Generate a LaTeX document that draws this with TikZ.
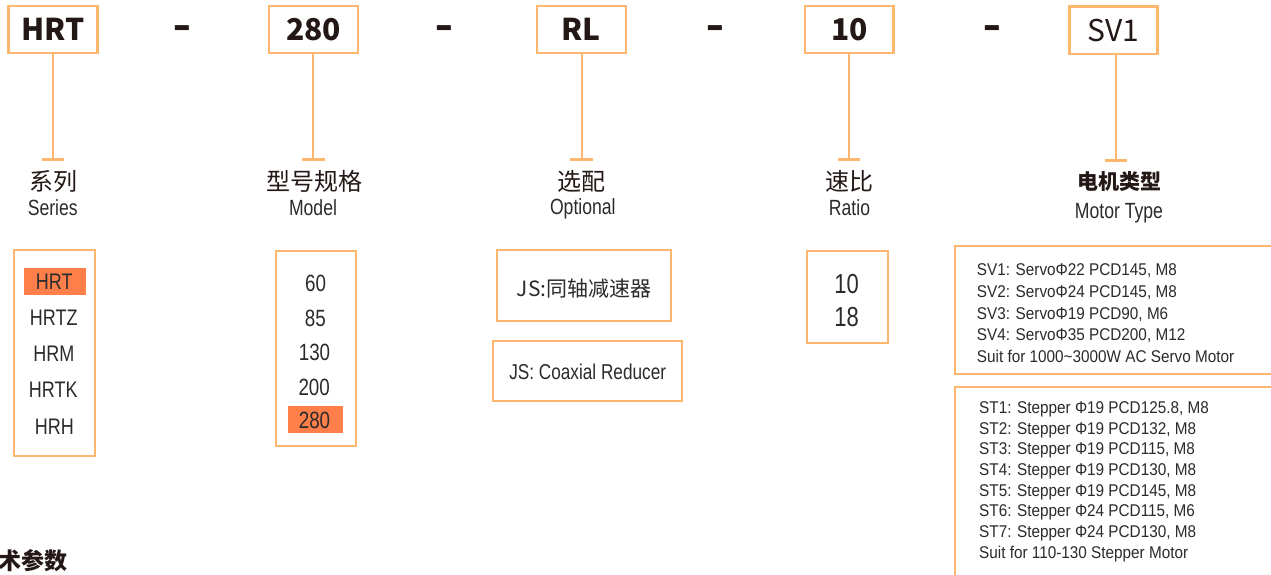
\documentclass[tikz,border=0pt]{standalone}
\usepackage{fontspec}
\setmainfont{Liberation Sans}
\newfontfamily\cjk{Noto Sans CJK SC}
\newfontfamily\na{Liberation Sans}[FakeStretch=0.8]
\newfontfamily\nb{Liberation Sans}[FakeStretch=0.9]
\usetikzlibrary{arrows.meta}
\definecolor{boxline}{HTML}{FFB66E}
\definecolor{hilite}{HTML}{FF7F4A}
\definecolor{ink}{HTML}{231815}
\definecolor{ink2}{HTML}{2B2B2B}
\tikzset{
  codebox/.style={draw=boxline, line width=2.5pt, minimum width=89pt, minimum height=47pt, inner sep=0pt, text=ink},
  codefont/.style={font=\cjk\bfseries\fontsize{30}{30}\selectfont},
  dashtxt/.style={font=\bfseries\fontsize{50}{50}\selectfont, text=ink, inner sep=0pt, anchor=base},
  listbox/.style={draw=boxline, line width=2pt, inner sep=0pt},
  hl/.style={fill=hilite, draw=none, inner sep=0pt},
  conn/.style={draw=boxline, line width=2pt},
  tbar/.style={draw=boxline, line width=3pt},
  cnlab/.style={font=\cjk\fontsize{24}{24}\selectfont, text=ink, anchor=base, inner sep=0pt},
  enlab/.style={font=\na\fontsize{22}{22}\selectfont, text=ink2, anchor=base, inner sep=0pt},
  item/.style={font=\na\fontsize{22.5}{22.5}\selectfont, text=ink2, anchor=base, inner sep=0pt},
  numitem/.style={font=\na\fontsize{23.5}{23.5}\selectfont, text=ink2, anchor=base, inner sep=0pt},
  motline/.style={font=\nb\fontsize{17}{17}\selectfont, text=ink2, anchor=base west, inner sep=0pt},
}
\newcommand{\heavydash}{\scalebox{0.565}[1]{–}}
\begin{document}
\begin{tikzpicture}[x=1pt, y=-1pt]
\useasboundingbox (0,0) rectangle (1271,574);
\clip (0,0) rectangle (1271,574);
\fill[white] (0,0) rectangle (1271,574);

% ---- top code boxes ----
\node[codebox, codefont] (hrt) at (52.8,29.3) {HRT};
\node[codebox, codefont] (m280) at (313.6,29.3) {280};
\node[codebox, codefont] (rl) at (581.3,29.6) {RL};
\node[codebox, codefont, minimum width=88.5pt] (r10) at (849.4,29.4) {10};
\node[codebox, font=\cjk\fontsize{30}{30}\selectfont, minimum width=88.4pt, minimum height=47.3pt] (sv1) at (1113.5,30.3) {SV1};

% dashes
\node[dashtxt] (d1) at (182.8,41.75) {\heavydash};
\node[dashtxt] (d2) at (444.8,41.75) {\heavydash};
\node[dashtxt] (d3) at (715.8,41.75) {\heavydash};
\node[dashtxt] (d4) at (992.8,41.75) {\heavydash};

% ---- connectors with T bars ----
\coordinate (t1) at (52.7,159);
\coordinate (t2) at (313.4,159);
\coordinate (t3) at (581.6,159.3);
\coordinate (t4) at (849.2,159);
\coordinate (t5) at (1116,160.3);
\foreach \b/\t in {hrt/t1, m280/t2, rl/t3, r10/t4, sv1/t5}{
  \draw[conn] (\b.south -| \t) -- (\t);
  \draw[tbar] ([xshift=-11.2pt]\t) -- ([xshift=11.2pt]\t);
}

% ---- labels ----
\node[cnlab] (l1c) at (53.5,190) {系列};
\node[enlab] (l1e) at (52.8,215) {Series};
\node[cnlab] (l2c) at (314.2,190) {型号规格};
\node[enlab] (l2e) at (313,215) {Model};
\node[cnlab] (l3c) at (581.7,190.5) {选配};
\node[enlab] (l3e) at (582.8,214.5) {Optional};
\node[cnlab] (l4c) at (849,190) {速比};
\node[enlab] (l4e) at (849.5,215) {Ratio};
\node[cnlab, font=\cjk\bfseries\fontsize{21}{21}\selectfont] (l5c) at (1119.3,189.5) {电机类型};
\node[enlab] (l5e) at (1119,218.3) {Motor Type};

% ---- series list ----
\node[listbox, minimum width=80.7pt, minimum height=206pt] (serbox) at (54.3,353) {};
\node[hl, minimum width=62pt, minimum height=26.7pt] (hlser) at (55,281.7) {};
\node[item] (s1) at (54.2,289.3) {HRT};
\node[item] (s2) at (53.8,325.7) {HRTZ};
\node[item] (s3) at (53.8,361.7) {HRM};
\node[item] (s4) at (53.3,397.3) {HRTK};
\node[item] (s5) at (54.3,434.3) {HRH};

% ---- model list ----
\node[listbox, minimum width=80.3pt, minimum height=195pt] (modbox) at (315.8,348.5) {};
\node[hl, minimum width=55pt, minimum height=26.7pt] (hlmod) at (315.5,419.3) {};
\node[numitem] (n1) at (315.5,291.7) {60};
\node[numitem] (n2) at (315.3,326) {85};
\node[numitem] (n3) at (314.5,360) {130};
\node[numitem] (n4) at (314.2,395) {200};
\node[numitem] (n5) at (314.5,428.3) {280};

% ---- optional boxes ----
\node[listbox, minimum width=173.7pt, minimum height=70.7pt, text height=23pt, text depth=0pt,
      font=\cjk\fontsize{21}{21}\selectfont, text=ink2] (js1) at (584.2,285.3) {JS:同轴减速器};
\node[listbox, minimum width=188.7pt, minimum height=60.3pt, text height=17pt, text depth=0pt,
      font=\na\fontsize{21.5}{21.5}\selectfont, text=ink2] (js2) at (587.7,370.8) {JS: Coaxial Reducer};

% ---- ratio box ----
\node[listbox, minimum width=80.7pt, minimum height=92.6pt] (ratbox) at (847.6,297) {};
\node[numitem, font=\na\fontsize{27.5}{27.5}\selectfont] (q1) at (846.7,293.3) {10};
\node[numitem, font=\na\fontsize{27.5}{27.5}\selectfont] (q2) at (846.7,326.7) {18};

% ---- motor type boxes ----
\node[listbox, minimum width=325pt, minimum height=128.3pt] (svbox) at (1117.5,310.2) {};
\node[motline] (v1) at (976.7,275.7) {SV1: ServoΦ22 PCD145, M8};
\node[motline] (v2) at (976.7,297.4) {SV2: ServoΦ24 PCD145, M8};
\node[motline] (v3) at (976.7,319.1) {SV3: ServoΦ19 PCD90, M6};
\node[motline] (v4) at (976.7,340.8) {SV4: ServoΦ35 PCD200, M12};
\node[motline] (v5) at (976.7,362.5) {Suit for 1000\textasciitilde3000W AC Servo Motor};

\node[listbox, minimum width=325pt, minimum height=203.3pt] (stbox) at (1117.5,488.3) {};
\node[motline] (p1) at (979,413.3) {ST1: Stepper Φ19 PCD125.8, M8};
\node[motline] (p2) at (979,434.0) {ST2: Stepper Φ19 PCD132, M8};
\node[motline] (p3) at (979,454.7) {ST3: Stepper Φ19 PCD115, M8};
\node[motline] (p4) at (979,475.4) {ST4: Stepper Φ19 PCD130, M8};
\node[motline] (p5) at (979,496.1) {ST5: Stepper Φ19 PCD145, M8};
\node[motline] (p6) at (979,516.9) {ST6: Stepper Φ24 PCD115, M6};
\node[motline] (p7) at (979,537.6) {ST7: Stepper Φ24 PCD130, M8};
\node[motline] (p8) at (979,558.3) {Suit for 110-130 Stepper Motor};

% ---- cropped heading ----
\node[font=\cjk\bfseries\fontsize{23}{23}\selectfont, text=ink, anchor=base west, inner sep=0pt] (hd) at (-2,569) {术参数};
\end{tikzpicture}
\end{document}
